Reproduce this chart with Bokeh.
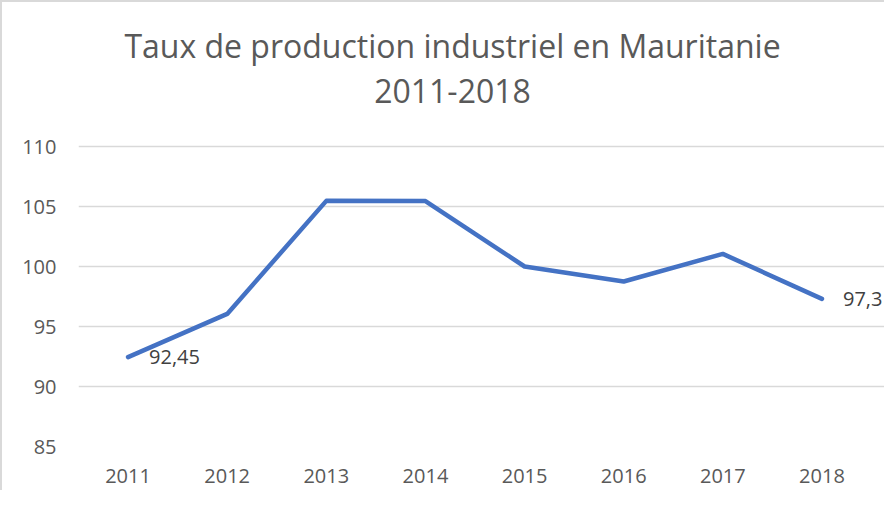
from bokeh.plotting import figure
from bokeh.models import ColumnDataSource, Range1d, FixedTicker, LabelSet
from bokeh.core.properties import value
from bokeh.embed import file_html
from bokeh.resources import INLINE

years = [2011, 2012, 2013, 2014, 2015, 2016, 2017, 2018]
rates = [92.45, 96.05, 105.47, 105.45, 100.0, 98.75, 101.05, 97.3]
label_years = [2011, 2018]
label_values = [92.45, 97.3]
label_texts = ["92,45", "97,3"]
y_ticks = [85, 90, 95, 100, 105, 110]
title_line1 = "Taux de production industriel en Mauritanie"
title_line2 = "2011-2018"

FONT = "Open Sans"
GREY = "#595959"

# Frame is extended upward (title area) and a little to the right (end label);
# grid lines are bounded to the category span 2010.5-2018.5.
p = figure(
    x_range=Range1d(2010.5, 2018.651),
    y_range=Range1d(85, 122),
    width=884, height=490,
    output_backend="svg", toolbar_location=None,
    title=None,
    min_border_left=76, min_border_right=0,
    min_border_bottom=46, min_border_top=0,
)
p.styles = {"border-top": "2px solid #d9d9d9", "border-left": "2px solid #d9d9d9"}

# two-line title centred over the chart
p.text(x=[2014.273, 2014.273], y=[118.4, 114.65], text=[title_line1, title_line2],
       text_align="center", text_baseline="alphabetic",
       text_font=value(FONT), text_font_size="32px", text_color=GREY)

p.line(x=years, y=rates, line_color="#4472C4", line_width=4.5,
       line_cap="round", line_join="round")

src = ColumnDataSource(dict(x=label_years, y=label_values, t=label_texts))
p.add_layout(LabelSet(x="x", y="y", text="t", source=src, x_offset=21,
                      text_baseline="middle", text_align="left",
                      text_font=value(FONT), text_font_size="20px",
                      text_color="#404040"))

p.xaxis.ticker = FixedTicker(ticks=years)
p.yaxis.ticker = FixedTicker(ticks=y_ticks)
p.ygrid.ticker = FixedTicker(ticks=y_ticks)
p.ygrid.bounds = (2010.5, 2018.5)
p.ygrid.grid_line_color = "#d9d9d9"
p.ygrid.grid_line_width = 1.5
p.xgrid.grid_line_color = None

for ax in (p.xaxis, p.yaxis):
    ax.axis_line_color = None
    ax.major_tick_line_color = None
    ax.minor_tick_line_color = None
    ax.major_tick_out = 0
    ax.major_tick_in = 0
    ax.major_label_text_font = FONT
    ax.major_label_text_font_size = "20px"
    ax.major_label_text_color = GREY
p.yaxis.major_label_standoff = 22
p.xaxis.major_label_standoff = 22

p.outline_line_color = None

open("out.html", "w").write(file_html(p, INLINE))
